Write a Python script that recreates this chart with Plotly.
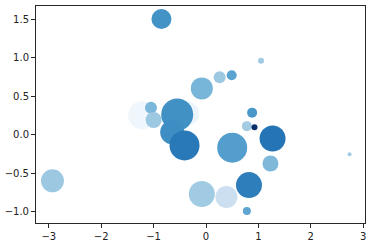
import plotly.graph_objects as go
import plotly.express as px

# data (drawn in this order; later points on top)
xs = [-1.22, -0.36, -1.05, -1.00, -0.55, -0.645, -0.41, -0.85, 1.05, 0.26, 0.49, -0.08,
      0.88, 0.78, 0.925, 0.50, 1.27, 1.23, -0.08, 0.39, 0.82, 0.78, -2.93, 2.74]
ys = [0.25, 0.275, 0.35, 0.19, 0.26, 0.03, -0.14, 1.50, 0.96, 0.745, 0.77, 0.60,
      0.285, 0.11, 0.095, -0.17, -0.05, -0.375, -0.77, -0.81, -0.655, -0.99, -0.60, -0.255]
sizes = [28, 24, 12, 16, 32, 24, 30, 20, 6, 12, 10, 22,
         10, 10, 6, 30, 26, 16, 26, 22, 26, 8, 23, 4]
colors = [0.04, 0.05, 0.46, 0.38, 0.63, 0.64, 0.72, 0.62, 0.37, 0.38, 0.55, 0.47,
          0.60, 0.36, 1.00, 0.57, 0.74, 0.45, 0.37, 0.22, 0.70, 0.54, 0.38, 0.37]
xticks = [-3, -2, -1, 0, 1, 2, 3]
yticks = [-1.0, -0.5, 0.0, 0.5, 1.0, 1.5]

fig = go.Figure(go.Scatter(
    x=xs, y=ys, mode="markers",
    marker=dict(size=sizes, color=colors, colorscale=px.colors.sequential.Blues,
                cmin=0, cmax=1, line=dict(width=0), opacity=1),
    hoverinfo="skip",
))

axis_common = dict(showgrid=False, zeroline=False, showline=True, mirror=True,
                   linecolor="rgb(40,40,40)", linewidth=1, ticks="outside",
                   ticklen=4, tickwidth=1, tickcolor="rgb(40,40,40)",
                   tickfont=dict(family="DejaVu Sans", size=10, color="#222"))

fig.update_layout(
    width=371, height=247,
    margin=dict(l=32, r=5, t=5, b=24),
    plot_bgcolor="white", paper_bgcolor="white",
    showlegend=False,
    xaxis=dict(range=[-3.244, 3.034], tickvals=xticks, **axis_common),
    yaxis=dict(range=[-1.147, 1.669], tickvals=yticks, tickformat=".1f", **axis_common),
)

fig.write_html("out.html")
